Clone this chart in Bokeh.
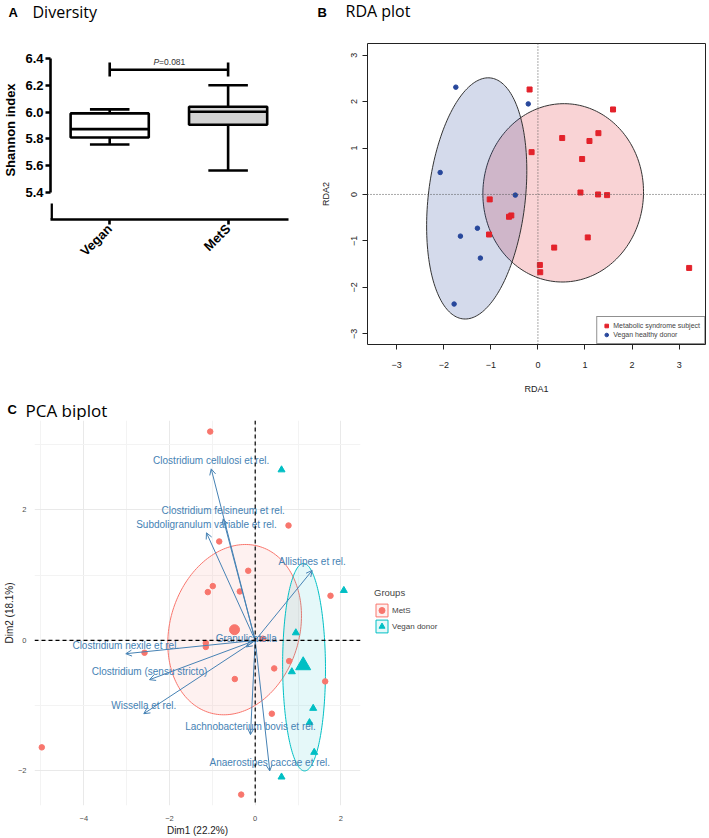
import numpy as np
from math import pi
from bokeh.plotting import figure
from bokeh.layouts import column, row
from bokeh.models import (Range1d, FixedTicker, Legend, LegendItem, Arrow, OpenHead,
                          ColumnDataSource, Span, NumeralTickFormatter)
from bokeh.embed import file_html
from bokeh.resources import INLINE
from bokeh.core.properties import value

ARIAL = "Liberation Sans"
HUM = "Open Sans"

# ---------------- Panel A data (Shannon diversity) ----------------
a_groups = ["Vegan", "MetS"]
a_pos = [1, 2]
a_low = [5.758, 5.564]
a_q1 = [5.81, 5.905]
a_med = [5.873, 6.002]
a_q3 = [5.99, 6.04]
a_high = [6.02, 6.20]
a_fill = ["#ffffff", "#d3d3d3"]
a_ticks = [5.4, 5.6, 5.8, 6.0, 6.2, 6.4]
a_bracket_y = 6.316
a_bracket_ends = [6.265, 6.37]
a_pvalue = "=0.081"

# ---------------- Panel B data (RDA) ----------------
b_mets_x = [-0.177, 1.596, -0.134, 0.516, 1.285, 1.095, 0.939, 0.904, 1.278, 1.469,
            -1.024, -0.565, -0.614, -1.038, 1.059, 0.346, 0.042, 0.049, 3.213]
b_mets_y = [2.26, 1.83, 0.911, 1.215, 1.32, 1.151, 0.763, 0.042, 0.0, -0.014,
            -0.106, -0.452, -0.48, -0.862, -0.925, -1.144, -1.518, -1.674, -1.582]
b_veg_x = [-1.744, -0.205, -2.076, -0.48, -1.285, -1.646, -1.222, -1.78]
b_veg_y = [2.31, 1.95, 0.473, -0.014, -0.727, -0.897, -1.37, -2.359]
b_ticks = [-3, -2, -1, 0, 1, 2, 3]
# ellipses: MetS, Vegan
b_ell_cx = [0.537, -1.30]
b_ell_cy = [0.035, -0.085]
b_ell_major = [1.92, 2.61]
b_ell_minor = [1.706, 1.03]
b_ell_tilt = [2.5, 6.4]          # degrees clockwise from vertical
b_labels = ["Metabolic syndrome subject", "Vegan healthy donor"]

# ---------------- Panel C data (PCA biplot) ----------------
c_mets_x = [-1.05, -0.84, 0.777, -0.163, -0.99, -1.106, -0.359, 1.757, -1.153, -1.153,
            -2.583, 0.178, 0.793, 0.443, -0.476, 1.633, 0.388, -4.98, -0.327]
c_mets_y = [3.20, 1.516, 1.761, 1.067, 0.832, 0.740, 0.75, 0.684, -0.041, -0.10,
            -0.189, 0.026, -0.317, -0.429, -0.592, -0.628, -1.123, -1.639, -2.363]
c_veg_x = [0.614, 2.068, 0.948, 0.855, 1.353, 1.267, 1.377, 0.614]
c_veg_y = [2.614, 0.766, 0.117, -0.48, -1.041, -1.26, -1.715, -2.093]
c_mean_x = [-0.483, 1.12]
c_mean_y = [0.164, -0.383]
c_var_names = ["Clostridium cellulosi et rel.", "Clostridium felsineum et rel.",
               "Subdoligranulum variable et rel.", "Allistipes et rel.", "Granulicatella",
               "Clostridium nexile et rel.", "Clostridium (sensu stricto)", "Wissella et rel.",
               "Lachnobacterium bovis et rel.", "Anaerostipes caccae et rel."]
c_var_x = [-1.027, -0.747, -1.137, 1.33, -0.21, -3.02, -2.467, -2.60, -0.11, 0.34]
c_var_y = [2.629, 1.863, 1.649, 1.072, -0.10, -0.204, -0.602, -1.123, -1.444, -2.0]
c_xticks = [-4, -2, 0, 2]
c_xminor = [-5, -3, -1, 1]
c_yticks = [-2, 0, 2]
c_yminor = [-1, 1, 3]
# ellipses (MetS, Vegan donor): centre, half extents, covariance term
c_ell_cx = [-0.48, 1.14]
c_ell_cy = [0.165, -0.41]
c_ell_hx = [1.56, 0.50]
c_ell_hy = [1.305, 1.59]
c_ell_cov = [0.33, -0.02]
c_labels = ["MetS", "Vegan donor"]
c_markers = ["circle", "triangle"]

RED_B, BLUE_B = "#e3222b", "#27479b"
RED_C, TEAL_C = "#F8766D", "#00BFC4"
STEEL = "#4682B4"

COMMON = dict(output_backend="svg", toolbar_location=None, frame_align=False)


def ellipse_tilted(cx, cy, major, minor, tilt_deg, n=200):
    t = np.linspace(0, 2 * pi, n)
    th = np.radians(tilt_deg)
    ux, uy = np.sin(th), np.cos(th)
    vx, vy = np.cos(th), -np.sin(th)
    xs = cx + major * np.cos(t) * ux + minor * np.sin(t) * vx
    ys = cy + major * np.cos(t) * uy + minor * np.sin(t) * vy
    return xs, ys


def ellipse_cov(cx, cy, hx, hy, cov, n=200):
    t = np.linspace(0, 2 * pi, n)
    m = np.linalg.cholesky(np.array([[hx * hx, cov], [cov, hy * hy]]))
    pts = m @ np.vstack([np.cos(t), np.sin(t)])
    return cx + pts[0], cy + pts[1]


def blank(width, height):
    f = figure(width=width, height=height, x_range=Range1d(0, width), y_range=Range1d(0, height),
               min_border=0, x_axis_location=None, y_axis_location=None, **COMMON)
    f.grid.visible = False
    f.outline_line_color = None
    return f


def htext(f, x, y, txt, size, font=ARIAL, style="normal"):
    f.text(x=[x], y=[y], text=[txt], text_font=value(font), text_font_size=size,
           text_font_style=style, text_align="left", text_baseline="alphabetic", text_color="black")


# ================= header row 1 =================
H1 = 22
hdr1 = blank(707, H1)
htext(hdr1, 8, H1 - 11.5, "A", "13px", style="bold")
htext(hdr1, 32, H1 - 11, "Diversity", "16px", font=HUM)
htext(hdr1, 317, H1 - 11.5, "B", "13px", style="bold")
htext(hdr1, 345, H1 - 10, "RDA plot", "16px", font=HUM)

# ================= Panel A =================
pA = figure(width=317, height=374, x_range=Range1d(0.5, 2.51), y_range=Range1d(5.1985, 6.534),
            min_border_left=47, min_border_right=29, min_border_top=18, min_border_bottom=177, **COMMON)
pA.outline_line_color = None
pA.grid.visible = False
LW = 2.6
HB, HC = 0.33, 0.167
srcA = ColumnDataSource(dict(x=a_pos, q1=a_q1, q3=a_q3, med=a_med, lo=a_low, hi=a_high, fill=a_fill,
                             xl=[v - HB for v in a_pos], xr=[v + HB for v in a_pos],
                             cl=[v - HC for v in a_pos], cr=[v + HC for v in a_pos]))
pA.segment(x0="x", y0="lo", x1="x", y1="q1", source=srcA, line_color="black", line_width=LW)
pA.segment(x0="x", y0="q3", x1="x", y1="hi", source=srcA, line_color="black", line_width=LW)
pA.segment(x0="cl", y0="lo", x1="cr", y1="lo", source=srcA, line_color="black", line_width=LW)
pA.segment(x0="cl", y0="hi", x1="cr", y1="hi", source=srcA, line_color="black", line_width=LW)
pA.vbar(x="x", width=2 * HB, bottom="q1", top="q3", fill_color="fill", source=srcA,
        line_color="black", line_width=LW)
pA.segment(x0="xl", y0="med", x1="xr", y1="med", source=srcA, line_color="black", line_width=LW)
pA.segment(x0=[a_pos[0]], y0=[a_bracket_y], x1=[a_pos[1]], y1=[a_bracket_y], line_color="black", line_width=LW)
pA.segment(x0=a_pos, y0=[a_bracket_ends[0]] * 2, x1=a_pos, y1=[a_bracket_ends[1]] * 2,
           line_color="black", line_width=LW)
pA.text(x=[1.417], y=[6.37], text=["P"], text_font=value(ARIAL), text_font_size="8.5px",
        text_font_style="italic", text_align="right", text_baseline="middle", text_color="#333333")
pA.text(x=[1.417], y=[6.37], text=[a_pvalue], text_font=value(ARIAL), text_font_size="8.5px",
        text_align="left", text_baseline="middle", text_color="#333333")
# lower stub of the broken y axis
pA.segment(x0=[0.5095], y0=[5.318], x1=[0.5095], y1=[5.1985], line_color="black", line_width=LW)

ya = pA.yaxis[0]
ya.ticker = FixedTicker(ticks=a_ticks)
ya.bounds = (5.4, 6.4)
ya.formatter = NumeralTickFormatter(format="0.0")
ya.axis_label = "Shannon index"
ya.axis_label_text_font = ARIAL
ya.axis_label_text_font_style = "bold"
ya.axis_label_text_font_size = "13px"
ya.axis_label_text_color = "black"
ya.axis_label_standoff = 4
xa = pA.xaxis[0]
xa.ticker = FixedTicker(ticks=a_pos)
xa.major_label_overrides = {1: a_groups[0], 2: a_groups[1]}
xa.major_label_orientation = pi / 4
for ax in (ya, xa):
    ax.major_tick_out = 5
    ax.major_tick_in = 0
    ax.minor_tick_line_color = None
    ax.axis_line_width = LW
    ax.major_tick_line_width = LW
    ax.major_label_text_font = ARIAL
    ax.major_label_text_font_style = "bold"
    ax.major_label_text_font_size = "13px"
    ax.major_label_text_color = "black"
ya.major_label_standoff = 2
xa.major_label_standoff = 2

# ================= Panel B =================
pB = figure(width=390, height=374, x_range=Range1d(-3.62, 3.56), y_range=Range1d(-3.23, 3.25),
            min_border_left=49, min_border_right=2, min_border_top=21, min_border_bottom=48, **COMMON)
pB.outline_line_color = "#222222"
pB.outline_line_width = 1
pB.grid.visible = False
ell_colors_B = [RED_B, BLUE_B]
for i in range(2):
    ex, ey = ellipse_tilted(b_ell_cx[i], b_ell_cy[i], b_ell_major[i], b_ell_minor[i], b_ell_tilt[i])
    pB.patch(ex, ey, fill_color=ell_colors_B[i], fill_alpha=0.2, line_color="#333333", line_width=1)
pB.add_layout(Span(location=0, dimension="height", line_color="#555555", line_dash="1 2", line_width=1))
pB.add_layout(Span(location=0, dimension="width", line_color="#555555", line_dash="1 2", line_width=1))
rB1 = pB.scatter(b_mets_x, b_mets_y, marker="square", size=5, fill_color=RED_B, line_color=RED_B)
rB2 = pB.scatter(b_veg_x, b_veg_y, marker="circle", size=4.5, fill_color=BLUE_B, line_color=BLUE_B)
for ax in (pB.xaxis[0], pB.yaxis[0]):
    ax.ticker = FixedTicker(ticks=b_ticks)
    ax.bounds = (-3, 3)
    ax.major_tick_out = 5
    ax.major_tick_in = 0
    ax.minor_tick_line_color = None
    ax.axis_line_color = "#222222"
    ax.major_tick_line_color = "#222222"
    ax.major_label_text_font = ARIAL
    ax.major_label_text_font_size = "9px"
    ax.major_label_text_color = "#222222"
    ax.axis_label_text_font = ARIAL
    ax.axis_label_text_font_size = "9px"
    ax.axis_label_text_font_style = "normal"
    ax.axis_label_text_color = "#222222"
pB.xaxis.axis_label = "RDA1"
pB.yaxis.axis_label = "RDA2"
pB.yaxis.major_label_orientation = "vertical"
pB.xaxis.major_label_standoff = 12
pB.yaxis.major_label_standoff = 5
pB.xaxis.axis_label_standoff = 13
pB.yaxis.axis_label_standoff = 18
legB = Legend(items=[LegendItem(label=b_labels[0], renderers=[rB1]),
                     LegendItem(label=b_labels[1], renderers=[rB2])],
              location="bottom_right", margin=0, padding=4, spacing=0,
              label_text_font=ARIAL, label_text_font_size="7px", label_height=9,
              glyph_height=9, glyph_width=10, label_standoff=2,
              border_line_color="#222222", border_line_width=1, background_fill_color="white")
pB.add_layout(legB)

# ================= header row 2 =================
H2 = 24
hdr2 = blank(707, H2)
htext(hdr2, 7, H2 - 13, "C", "13px", style="bold")
htext(hdr2, 25, H2 - 13.5, "PCA biplot", "17px", font=HUM)

# ================= Panel C =================
HC_ = 418
pC = figure(width=362, height=HC_, x_range=Range1d(-5.15, 2.457), y_range=Range1d(-2.53, 3.37),
            min_border_left=27, min_border_right=2, min_border_top=0, min_border_bottom=28, **COMMON)
pC.outline_line_color = None
pC.xaxis.ticker = FixedTicker(ticks=c_xticks, minor_ticks=c_xminor)
pC.yaxis.ticker = FixedTicker(ticks=c_yticks, minor_ticks=c_yminor)
pC.grid.grid_line_color = "#e9e9e9"
pC.grid.minor_grid_line_color = "#f3f3f3"
for ax in (pC.xaxis[0], pC.yaxis[0]):
    ax.axis_line_color = None
    ax.major_tick_line_color = None
    ax.minor_tick_line_color = None
    ax.major_label_text_font = ARIAL
    ax.major_label_text_font_size = "7.5px"
    ax.major_label_text_color = "#4d4d4d"
    ax.axis_label_text_font = ARIAL
    ax.axis_label_text_font_size = "10px"
    ax.axis_label_text_font_style = "normal"
    ax.axis_label_text_color = "#222222"
pC.xaxis.axis_label = "Dim1 (22.2%)"
pC.yaxis.axis_label = "Dim2 (18.1%)"
pC.xaxis.major_label_standoff = 4
pC.yaxis.major_label_standoff = 2
pC.xaxis.axis_label_standoff = 1
pC.yaxis.axis_label_standoff = 0

ell_colors_C = [RED_C, TEAL_C]
for i in range(2):
    ex, ey = ellipse_cov(c_ell_cx[i], c_ell_cy[i], c_ell_hx[i], c_ell_hy[i], c_ell_cov[i])
    pC.patch(ex, ey, fill_color=ell_colors_C[i], fill_alpha=0.1, line_color=ell_colors_C[i], line_width=1)
pC.scatter(c_mets_x, c_mets_y, marker="circle", size=5.5, color=RED_C)
pC.scatter(c_veg_x, c_veg_y, marker="triangle", size=7, color=TEAL_C)
pC.scatter([c_mean_x[0]], [c_mean_y[0]], marker="circle", size=10, color=RED_C)
pC.scatter([c_mean_x[1]], [c_mean_y[1]], marker="triangle", size=15, color=TEAL_C)
pC.text(x=c_var_x, y=c_var_y, text=c_var_names, text_font=value(ARIAL), text_font_size="10px",
        text_color=STEEL, text_align="center", text_baseline="middle", y_offset=-8.5)
srcArr = ColumnDataSource(dict(x0=[0.0] * len(c_var_x), y0=[0.0] * len(c_var_y), x1=c_var_x, y1=c_var_y))
pC.add_layout(Arrow(end=OpenHead(size=6, line_color=STEEL, line_width=1), source=srcArr,
                    x_start="x0", y_start="y0", x_end="x1", y_end="y1",
                    line_color=STEEL, line_width=1))
pC.add_layout(Span(location=0, dimension="height", line_color="black", line_dash="4 3", line_width=1.2))
pC.add_layout(Span(location=0, dimension="width", line_color="black", line_dash="4 3", line_width=1.2))

# legend of panel C, in its own blank area to the right of the panel
# (legend proxies sit outside the visible range of this blank area)
pLeg = blank(345, HC_)
lr = []
for i in range(2):
    rp = pLeg.patch(x=[-30, -20, -20], y=[-30, -30, -20], fill_color=ell_colors_C[i], fill_alpha=0.1,
                    line_color=ell_colors_C[i], line_width=1)
    rs = pLeg.scatter(x=[-30], y=[-30], marker=c_markers[i], color=ell_colors_C[i])
    lr.append([rp, rs])
legC = Legend(items=[LegendItem(label=c_labels[0], renderers=lr[0]),
                     LegendItem(label=c_labels[1], renderers=lr[1])],
              title="Groups", location=(12, 204), margin=0, padding=0, spacing=0,
              label_text_font=ARIAL, label_text_font_size="8px", label_height=16,
              glyph_height=16, glyph_width=15, label_standoff=3,
              title_text_font=ARIAL, title_text_font_size="9.5px", title_text_font_style="normal",
              title_standoff=4, border_line_color=None, background_fill_alpha=0)
pLeg.add_layout(legC)

layout = column(hdr1, row(pA, pB), hdr2, row(pC, pLeg))
open("out.html", "w").write(file_html(layout, INLINE))
